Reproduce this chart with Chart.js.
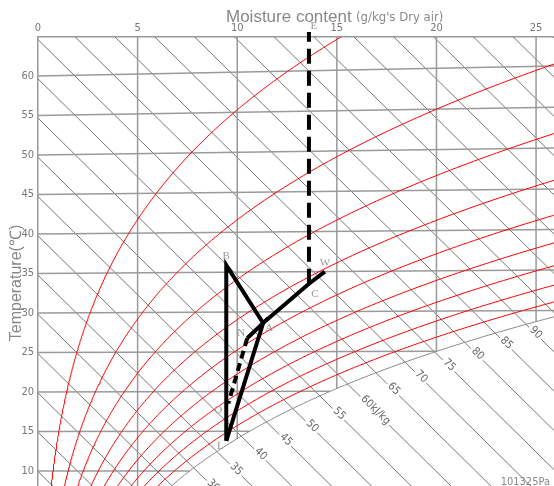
<!DOCTYPE html>
<html>
<head>
<meta charset="utf-8">
<script src="https://cdn.jsdelivr.net/npm/chart.js@4.4.1/dist/chart.umd.min.js"></script>
<style>
  html, body { margin: 0; padding: 0; background: #fff; }
  #wrap { width: 554px; height: 486px; position: relative; }
</style>
</head>
<body>
<div id="wrap"><canvas id="psy-chart"></canvas></div>
<script>
// axis ticks
const moistureTicks = [0, 5, 10, 15, 20, 25];
const temperatureTicks = [10, 15, 20, 25, 30, 35, 40, 45, 50, 55, 60];

// relative humidity curves (%), saturation drawn separately
const rhLevels = [10, 20, 30, 40, 50, 60, 70, 80, 90];

// enthalpy lines (kJ/kg), and which of them get a label
const enthalpyLines = [10, 15, 20, 25, 30, 35, 40, 45, 50, 55, 60, 65, 70, 75, 80, 85, 90, 95, 100, 105, 110, 115, 120, 125, 130];
const enthalpyLabels = [30, 35, 40, 45, 50, 55, 60, 65, 70, 75, 80, 85, 90];

// process points
const pointNames = ['B', 'L', 'A', 'C', 'W', 'E', 'N', 'O'];
const pointMoisture = [9.45, 9.45, 11.3, 13.6, 14.4, 13.6, 10.5, 9.55];
const pointTemp = [35.9, 13.8, 28.6, 33.5, 35.0, 64.8, 26.7, 18.5];

const solidPaths = [['L', 'B', 'A', 'C', 'W'], ['N', 'A', 'L']];
const longDashPaths = [['C', 'E']];
const shortDashPaths = [['N', 'O']];

// label offsets in px (style only)
const labelOffsets = { B: [0, -9], L: [-6, 5], A: [6, 5], C: [6, 10], W: [0, -9], E: [5, -6], N: [-6, -5], O: [-10, 7] };

const P = 101.325;
function psat(t) { return 0.61094 * Math.exp(17.625 * t / (t + 243.04)); }
function moistureAt(t, rh) { const pv = rh / 100 * psat(t); return 622 * pv / (P - pv); }
function satTemp(x) {
    const pv = x * P / (622 + x);
    const l = Math.log(pv / 0.61094);
    return 243.04 * l / (17.625 - l);
}
// isotherms lean up slightly to the right
function chartY(t, x) { return t + 1.35e-5 * t * t * x; }
function enthalpyY(h, x) { return (h - 2.501 * x) / 1.006; }

function pt(name) {
    const i = pointNames.indexOf(name);
    return { x: pointMoisture[i], y: chartY(pointTemp[i], pointMoisture[i]) };
}

const datasets = [];
const XMAX = 27;

// process lines on top
solidPaths.forEach(p => datasets.push({ data: p.map(pt), borderColor: '#000', borderWidth: 4, order: 0 }));
longDashPaths.forEach(p => datasets.push({ data: p.map(pt), borderColor: '#000', borderWidth: 4, borderDash: [15, 7], order: 0, clip: false }));
shortDashPaths.forEach(p => datasets.push({ data: p.map(pt), borderColor: '#000', borderWidth: 4, borderDash: [8, 5], order: 0 }));
datasets.push({ data: [pt('E')], showLine: false, pointRadius: 2.5, pointBackgroundColor: '#f5f000', pointBorderWidth: 0, order: 0, clip: false });

// relative humidity curves
rhLevels.forEach(rh => {
    const d = [];
    for (let t = 4; t <= 72; t += 0.25) {
        const x = moistureAt(t, rh);
        d.push({ x: x, y: chartY(t, x) });
        if (x > XMAX) break;
    }
    datasets.push({ data: d, borderColor: '#ff0000', borderWidth: 1, order: 1 });
});

// saturation curve
{
    const d = [];
    for (let t = 4; t <= 34; t += 0.25) {
        const x = moistureAt(t, 100);
        d.push({ x: x, y: chartY(t, x) });
        if (x > XMAX) break;
    }
    datasets.push({ data: d, borderColor: '#8a8a8a', borderWidth: 1, order: 2 });
}

// isotherms, ending on the saturation curve
temperatureTicks.forEach(t => {
    const xEnd = Math.min(moistureAt(t, 100), XMAX);
    datasets.push({ data: [{ x: 0, y: t }, { x: xEnd, y: chartY(t, xEnd) }], borderColor: '#9a9a9a', borderWidth: 1.5, order: 3 });
});

// constant moisture lines, ending on the saturation curve
moistureTicks.filter(x => x > 0).forEach(x => {
    const ts = satTemp(x);
    datasets.push({ data: [{ x: x, y: 70 }, { x: x, y: chartY(ts, x) }], borderColor: '#9a9a9a', borderWidth: 1.5, order: 3 });
});

// enthalpy lines
enthalpyLines.forEach(h => {
    datasets.push({ data: [{ x: 0, y: enthalpyY(h, 0) }, { x: XMAX, y: enthalpyY(h, XMAX) }], borderColor: '#666', borderWidth: 0.9, order: 4 });
});

function satPointForEnthalpy(h) {
    let lo = 0, hi = 45;
    for (let i = 0; i < 50; i++) {
        const m = (lo + hi) / 2;
        const xs = moistureAt(m, 100);
        if (chartY(m, xs) - enthalpyY(h, xs) > 0) hi = m; else lo = m;
    }
    const xs = moistureAt(lo, 100);
    return { x: xs, y: chartY(lo, xs) };
}

const textPlugin = {
    id: 'psyText',
    afterDatasetsDraw(chart) {
        // enthalpy labels sit inside their line, below the saturation curve
        const ctx = chart.ctx;
        const xs = chart.scales.x, ys = chart.scales.y;
        ctx.save();
        ctx.font = "11px 'Liberation Sans Narrow', 'DejaVu Sans Condensed', sans-serif";
        ctx.textAlign = 'left';
        ctx.textBaseline = 'middle';
        enthalpyLabels.forEach(h => {
            const s = satPointForEnthalpy(h);
            const x0 = xs.getPixelForValue(s.x), y0 = ys.getPixelForValue(s.y);
            const x1 = xs.getPixelForValue(s.x + 1), y1 = ys.getPixelForValue(enthalpyY(h, s.x + 1) + (s.y - enthalpyY(h, s.x)));
            const a = Math.atan2(y1 - y0, x1 - x0);
            const dist = 20 - Math.max(0, h - 60) * 0.45;
            const txt = h === 60 ? '60kJ/kg' : String(h);
            const w = ctx.measureText(txt).width;
            ctx.save();
            ctx.translate(x0 + dist * Math.cos(a), y0 + dist * Math.sin(a));
            ctx.rotate(a);
            ctx.fillStyle = '#fff';
            ctx.fillRect(-2, -5, w + 4, 10);
            ctx.fillStyle = '#666';
            ctx.fillText(txt, 0, -1);
            ctx.restore();
        });
        ctx.restore();
    },
    afterDraw(chart) {
        const ctx = chart.ctx;
        const xs = chart.scales.x, ys = chart.scales.y;
        ctx.save();

        // point labels
        ctx.fillStyle = '#999';
        ctx.font = "11px 'Liberation Serif', serif";
        ctx.textAlign = 'center';
        ctx.textBaseline = 'middle';
        pointNames.forEach(n => {
            const p = pt(n);
            const o = labelOffsets[n];
            ctx.fillText(n, xs.getPixelForValue(p.x) + o[0], ys.getPixelForValue(p.y) + o[1]);
        });

        // titles
        ctx.fillStyle = '#888';
        ctx.textAlign = 'left';
        ctx.textBaseline = 'alphabetic';
        ctx.font = "17px 'Liberation Sans', sans-serif";
        ctx.fillText('Moisture content', 226, 22);
        ctx.font = "13px 'Liberation Sans Narrow', 'DejaVu Sans Condensed', sans-serif";
        ctx.fillText("(g/kg's Dry air)", 356, 21);

        ctx.save();
        ctx.translate(21, 283);
        ctx.rotate(-Math.PI / 2);
        ctx.textAlign = 'center';
        ctx.font = "16px 'Liberation Sans', sans-serif";
        ctx.fillText('Temperature(\u2103)', 0, 0);
        ctx.restore();

        ctx.textAlign = 'right';
        ctx.font = "11px 'Liberation Sans Narrow', 'DejaVu Sans Condensed', sans-serif";
        ctx.fillText('101325Pa', 550, 485);
        ctx.restore();
    }
};

const tickFont = { family: "'Liberation Sans Narrow', 'DejaVu Sans Condensed', sans-serif", size: 11 };

function noPad(s) {
    s.paddingTop = 0;
    s.paddingBottom = 0;
    s.paddingLeft = 0;
    s.paddingRight = 0;
}

new Chart(document.getElementById('psy-chart'), {
    type: 'scatter',
    data: { datasets: datasets.map(d => Object.assign({ showLine: true, pointRadius: 0, fill: false, tension: 0 }, d)) },
    options: {
        responsive: true,
        maintainAspectRatio: false,
        animation: false,
        events: [],
        layout: { padding: 0, autoPadding: false },
        plugins: { legend: { display: false }, tooltip: { enabled: false } },
        scales: {
            x: {
                type: 'linear', position: 'top', min: 0, max: 25.9,
                grid: { display: false, drawTicks: false },
                border: { display: true, color: '#999', width: 1.5 },
                ticks: { color: '#777', font: tickFont, padding: 2, maxRotation: 0 },
                afterBuildTicks: s => { s.ticks = moistureTicks.map(v => ({ value: v })); },
                afterFit: s => { s.height = 37; noPad(s); }
            },
            y: {
                type: 'linear', min: 8.1, max: 64.94,
                grid: { display: false, drawTicks: false },
                border: { display: true, color: '#999', width: 1.5 },
                ticks: { color: '#777', font: tickFont, padding: 4 },
                afterBuildTicks: s => { s.ticks = temperatureTicks.map(v => ({ value: v })); },
                afterFit: s => { s.width = 38; noPad(s); }
            }
        }
    },
    plugins: [textPlugin]
});
</script>
</body>
</html>
